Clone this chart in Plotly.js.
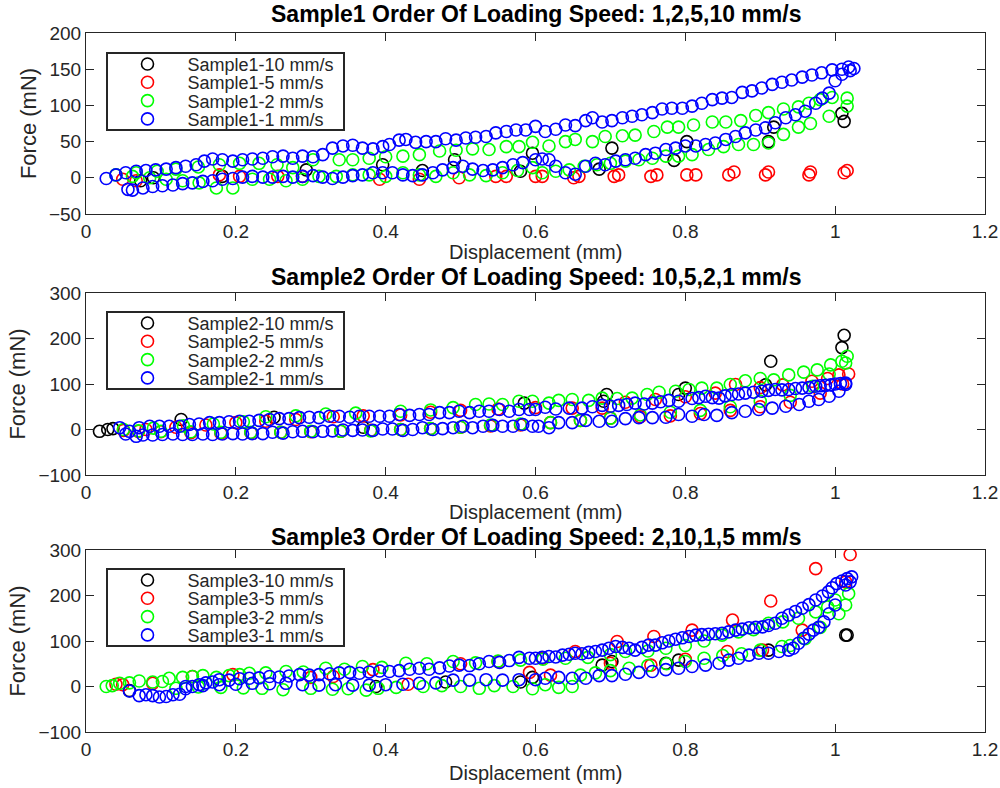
<!DOCTYPE html>
<html>
<head>
<meta charset="utf-8">
<script src="https://cdn.plot.ly/plotly-3.0.1.min.js"></script>
<style>html,body{margin:0;padding:0;background:#fff;}#chart{width:1000px;height:788px;}</style>
</head>
<body>
<div id="chart"></div>
<script>
// ---------- Sample 1 ----------
const s1_10x = [0.073,0.09,0.182,0.294,0.396,0.449,0.492,0.58,0.596,0.685,0.702,0.785,0.802,0.911,0.918,1.009,1.012];
const s1_10y = [-4,0,2,11,18,10,25,9,34,12,41,24,50,50,70,89,78];
const s1_5x = [0.049,0.067,0.178,0.205,0.256,0.289,0.392,0.445,0.498,0.547,0.561,0.6,0.609,0.651,0.658,0.705,0.711,0.754,0.762,0.802,0.814,0.858,0.865,0.907,0.911,0.965,0.967,1.012,1.016];
const s1_5y = [-2,-4,4,2,2,2,-2,-2,0,2,2,2,2,0,2,2,4,2,4,4,4,4,8,4,8,4,8,7,10];
const s1_2x = [0.04,0.067,0.095,0.12,0.15,0.178,0.205,0.231,0.255,0.276,0.303,0.338,0.356,0.378,0.4,0.423,0.445,0.472,0.494,0.516,0.538,0.561,0.578,0.596,0.618,0.64,0.653,0.676,0.693,0.716,0.733,0.758,0.776,0.791,0.811,0.836,0.854,0.874,0.894,0.911,0.931,0.951,0.965,0.98,0.996,1.016,
  1.016,0.992,0.967,0.951,0.931,0.911,0.891,0.871,0.851,0.831,0.809,0.791,0.774,0.756,0.738,0.72,0.7,0.682,0.665,0.645,0.627,0.609,0.596,0.576,0.556,0.534,0.512,0.49,0.467,0.445,0.423,0.4,0.378,0.356,0.334,0.311,0.289,0.267,0.245,0.222,0.196,0.174,0.151,0.129,0.107,0.085,0.062];
const s1_2y = [4,7,9,12,15,18,20,20,18,14,25,25,25,27,29,30,32,37,38,40,39,43,43,49,44,50,53,50,57,58,59,64,70,70,73,77,77,79,86,90,95,98,103,108,111,110,
  99,85,75,70,60,48,46,46,43,39,32,30,30,27,25,23,20,18,16,11,9,7,14,10,7,3,4,7,2,4,7,2,4,4,2,2,-2,-4,-2,-2,-14,-14,-7,-4,-2,0,2];
const s1_1x = [0.027,0.04,0.053,0.067,0.08,0.093,0.107,0.12,0.133,0.147,0.158,0.169,0.182,0.196,0.209,0.222,0.236,0.249,0.263,0.276,0.289,0.303,0.316,0.329,0.343,0.356,0.369,0.383,0.396,0.405,0.418,0.427,0.44,0.454,0.467,0.48,0.494,0.507,0.52,0.534,0.547,0.561,0.574,0.587,0.6,0.613,0.627,0.64,0.653,0.667,0.676,0.689,0.702,0.716,0.729,0.742,0.756,0.769,0.782,0.796,0.809,0.822,0.836,0.849,0.862,0.876,0.889,0.902,0.916,0.929,0.942,0.956,0.969,0.982,0.996,1.009,1.018,1.025,
  1.02,1.009,1.0,0.992,0.983,0.974,0.96,0.947,0.934,0.92,0.907,0.894,0.88,0.867,0.854,0.84,0.827,0.814,0.8,0.787,0.774,0.76,0.747,0.733,0.72,0.707,0.693,0.68,0.667,0.653,0.64,0.627,0.618,0.609,0.6,0.583,0.57,0.556,0.543,0.53,0.516,0.503,0.49,0.476,0.463,0.449,0.436,0.423,0.409,0.396,0.383,0.369,0.356,0.343,0.329,0.316,0.303,0.289,0.276,0.263,0.249,0.236,0.222,0.209,0.196,0.182,0.169,0.156,0.142,0.129,0.116,0.102,0.089,0.076,0.062,0.056];
const s1_1y = [-1,4,7,9,10,11,12,14,16,18,23,26,25,23,25,26,27,29,30,27,30,29,32,41,44,45,41,40,43,46,52,53,49,50,50,54,52,55,56,57,62,64,66,66,71,64,67,73,72,79,83,77,79,83,85,87,90,95,96,96,99,103,108,110,111,118,120,124,129,132,135,139,142,145,149,150,153,151,
  148,143,134,117,110,103,92,87,83,76,69,66,62,57,53,48,46,44,44,41,39,34,32,27,25,23,18,20,16,5,7,16,25,26,25,21,18,14,11,10,12,16,14,11,7,4,3,4,7,7,7,4,3,1,-1,1,3,2,1,2,1,1,2,1,-1,-2,-4,-5,-7,-8,-10,-11,-12,-14,-17,-16];

// ---------- Sample 2 ----------
const s2_10x = [0.018,0.029,0.036,0.127,0.251,0.37,0.585,0.691,0.695,0.791,0.8,0.907,0.914,1.009,1.012];
const s2_10y = [-4,0,2,22,27,5,58,62,77,77,91,98,150,180,207];
const s2_5x = [0.05,0.08,0.12,0.16,0.2,0.24,0.28,0.33,0.37,0.42,0.46,0.5,0.55,0.6,0.649,0.689,0.72,0.76,0.8,0.84,0.867,0.9,0.93,0.969,0.99,1.005,1.018,
  1.01,0.98,0.94,0.9,0.86,0.82,0.78,0.74,0.7,0.66,0.62,0.58,0.54,0.5,0.46,0.42,0.38,0.34,0.3,0.26,0.22,0.18,0.14,0.1,0.07];
const s2_5y = [-2,0,5,10,15,18,22,28,30,32,38,42,45,48,47,47,60,66,72,80,99,92,98,106,112,120,122,
  100,80,60,50,42,35,30,28,25,20,15,10,8,5,2,0,-2,-4,-5,-6,-7,-8,-7,-5,-4];
const s2_2x = [0.05,0.09,0.13,0.17,0.21,0.24,0.28,0.32,0.36,0.42,0.46,0.49,0.52,0.538,0.556,0.578,0.596,0.618,0.631,0.649,0.671,0.689,0.709,0.729,0.749,0.765,0.787,0.805,0.822,0.842,0.86,0.88,0.9,0.918,0.938,0.958,0.976,0.994,1.009,1.016,
  1.014,0.992,0.97,0.94,0.9,0.86,0.82,0.78,0.74,0.7,0.66,0.62,0.58,0.54,0.5,0.46,0.42,0.38,0.34,0.3,0.26,0.22,0.18,0.14,0.1,0.07];
const s2_2y = [0,3,8,12,17,28,30,34,36,40,43,48,55,56,55,62,62,58,64,66,64,69,68,69,77,82,84,88,91,91,99,107,112,109,120,126,131,142,150,161,
  146,122,95,75,62,50,42,38,32,25,20,15,12,10,5,2,0,-3,-4,-4,-6,-6,-6,-5,-4,-3];
const s2_1x = [0.045,0.058,0.071,0.085,0.098,0.111,0.125,0.138,0.151,0.165,0.178,0.191,0.205,0.218,0.231,0.245,0.258,0.271,0.285,0.298,0.311,0.325,0.338,0.352,0.365,0.378,0.392,0.405,0.418,0.432,0.445,0.458,0.472,0.485,0.498,0.512,0.525,0.538,0.552,0.565,0.578,0.592,0.6,0.613,0.627,0.645,0.662,0.676,0.689,0.7,0.711,0.722,0.733,0.745,0.756,0.767,0.778,0.791,0.809,0.818,0.827,0.836,0.845,0.853,0.862,0.871,0.88,0.891,0.902,0.911,0.92,0.929,0.938,0.947,0.956,0.965,0.974,0.98,0.987,0.994,1.0,1.007,1.014,
  1.014,1.005,0.992,0.978,0.965,0.952,0.934,0.916,0.898,0.88,0.862,0.842,0.825,0.809,0.791,0.774,0.756,0.738,0.72,0.702,0.685,0.667,0.649,0.631,0.618,0.604,0.596,0.583,0.57,0.556,0.543,0.53,0.516,0.503,0.49,0.476,0.463,0.449,0.436,0.423,0.409,0.396,0.383,0.369,0.356,0.343,0.329,0.316,0.303,0.289,0.276,0.263,0.249,0.236,0.222,0.209,0.196,0.182,0.169,0.156,0.142,0.129,0.116,0.102,0.089,0.076,0.067,0.053];
const s2_1y = [4,-4,4,7,7,7,7,11,12,15,15,17,18,18,20,22,24,24,26,27,26,29,29,27,29,29,29,29,33,31,33,33,37,37,40,37,40,40,44,40,44,44,44,49,45,47,47,50,53,51,53,55,58,56,58,61,64,62,68,70,73,70,69,74,77,78,80,82,84,86,88,87,88,90,91,92,95,96,97,98,100,101,102,
  99,84,73,66,62,55,51,47,44,40,37,31,33,29,33,27,26,26,24,18,18,20,15,15,4,7,7,11,7,7,9,7,4,7,4,2,0,4,0,-2,1,1,-2,-1,-2,-1,-3,-4,-5,-4,-5,-8,-6,-9,-9,-10,-9,-10,-11,-10,-11,-11,-10,-11,-12,-12,-15,-10];

// ---------- Sample 3 ----------
const s3_10x = [0.058,0.387,0.48,0.58,0.596,0.689,0.702,0.774,0.791,0.911,1.014,1.016];
const s3_10y = [-9,0,10,10,20,47,55,51,58,80,113,113];
const s3_5x = [0.04,0.049,0.089,0.142,0.196,0.3,0.33,0.383,0.43,0.5,0.55,0.592,0.609,0.62,0.653,0.7,0.709,0.754,0.758,0.8,0.809,0.856,0.863,0.903,0.914,0.956,0.974,1.014,1.02];
const s3_5y = [5,4,7,22,26,20,22,37,5,50,55,31,62,25,77,51,99,47,110,60,124,77,146,80,188,124,259,230,290];
const s3_2x = [0.027,0.035,0.045,0.058,0.071,0.089,0.102,0.111,0.129,0.142,0.156,0.174,0.191,0.205,0.218,0.24,0.267,0.29,0.32,0.345,0.369,0.395,0.427,0.455,0.49,0.52,0.55,0.58,0.61,0.64,0.67,0.7,0.72,0.75,0.774,0.8,0.825,0.849,0.871,0.891,0.911,0.93,0.951,0.974,0.99,1.0,1.014,1.018,
  1.005,0.98,0.96,0.94,0.929,0.9,0.875,0.85,0.825,0.8,0.775,0.75,0.725,0.7,0.68,0.66,0.649,0.631,0.613,0.596,0.57,0.545,0.525,0.5,0.475,0.45,0.414,0.39,0.374,0.35,0.329,0.3,0.263,0.235,0.21,0.18,0.15,0.12];
const s3_2y = [0,2,7,8,12,10,11,18,20,22,24,20,24,26,29,30,33,32,40,38,44,42,51,50,55,52,56,58,60,62,64,70,77,78,84,90,100,113,120,125,139,142,150,164,175,190,179,204,
  160,130,105,90,88,80,72,68,62,55,50,46,40,35,30,25,0,-2,4,-5,0,2,-4,0,2,0,-2,-4,-8,-5,-6,-4,-7,-4,-3,-2,-1,-4];
const s3_1x = [0.058,0.071,0.08,0.089,0.098,0.107,0.116,0.125,0.133,0.142,0.151,0.16,0.169,0.178,0.191,0.205,0.218,0.231,0.245,0.258,0.271,0.285,0.298,0.311,0.325,0.338,0.352,0.365,0.378,0.392,0.405,0.418,0.432,0.445,0.458,0.472,0.485,0.498,0.512,0.525,0.538,0.552,0.565,0.578,0.592,0.6,0.609,0.618,0.627,0.636,0.645,0.653,0.662,0.671,0.68,0.689,0.698,0.707,0.716,0.725,0.733,0.742,0.751,0.76,0.769,0.778,0.787,0.796,0.805,0.814,0.822,0.831,0.84,0.849,0.858,0.867,0.876,0.885,0.894,0.903,0.911,0.92,0.929,0.938,0.947,0.956,0.965,0.974,0.983,0.991,0.996,1.002,1.009,1.016,1.022,
  1.02,1.014,1.0,0.992,0.985,0.978,0.971,0.965,0.958,0.951,0.944,0.938,0.925,0.911,0.898,0.885,0.871,0.858,0.845,0.827,0.809,0.791,0.774,0.756,0.738,0.72,0.702,0.685,0.667,0.649,0.631,0.613,0.6,0.578,0.556,0.534,0.512,0.49,0.467,0.445,0.423,0.4,0.378,0.356,0.333,0.311,0.289,0.267,0.245,0.222,0.2,0.178,0.156,0.133];
const s3_1y = [-10,-20,-18,-20,-23,-22,-18,-17,-5,0,4,8,10,15,14,17,18,19,22,21,23,26,25,26,28,30,31,29,32,34,33,35,38,40,38,41,45,47,46,50,55,53,57,64,62,62,64,66,65,69,71,73,72,75,77,80,84,88,86,84,80,86,91,91,96,100,104,107,110,113,114,115,116,117,120,124,126,129,130,131,134,139,150,157,165,172,180,190,199,208,217,226,232,237,241,
  230,223,179,160,142,130,124,115,106,95,84,80,77,73,73,69,62,58,51,47,44,40,37,33,31,27,24,24,18,18,20,18,15,15,14,15,14,14,8,7,5,4,3,3,4,3,4,7,6,7,5,4,2,0];

const speedNames = ['10 mm/s','5 mm/s','2 mm/s','1 mm/s'];
const speedColors = ['#000000','#ff0000','#00ff00','#0000ff'];
const titles = ['Sample1 Order Of Loading Speed: 1,2,5,10 mm/s',
                'Sample2 Order Of Loading Speed: 10,5,2,1 mm/s',
                'Sample3 Order Of Loading Speed: 2,10,1,5 mm/s'];
const xLabel = 'Displacement (mm)';
const yLabel = 'Force (mN)';
const yTicks1 = [-50,0,50,100,150,200];
const yTicks23 = [-100,0,100,200,300];
const xTicks = [0,0.2,0.4,0.6,0.8,1,1.2];

const samples = [
  [[s1_10x,s1_10y],[s1_5x,s1_5y],[s1_2x,s1_2y],[s1_1x,s1_1y]],
  [[s2_10x,s2_10y],[s2_5x,s2_5y],[s2_2x,s2_2y],[s2_1x,s2_1y]],
  [[s3_10x,s3_10y],[s3_5x,s3_5y],[s3_2x,s3_2y],[s3_1x,s3_1y]]
];

const FONT = 'Liberation Sans, Arial, Helvetica, sans-serif';
const AX = '#262626';
const traces = [];
samples.forEach((sets, si) => {
  sets.forEach((d, k) => {
    traces.push({
      type: 'scatter', mode: 'markers',
      x: d[0], y: d[1],
      name: 'Sample' + (si + 1) + '-' + speedNames[k],
      xaxis: si === 0 ? 'x' : 'x' + (si + 1),
      yaxis: si === 0 ? 'y' : 'y' + (si + 1),
      legend: si === 0 ? 'legend' : 'legend' + (si + 1),
      marker: {symbol: 'circle-open', size: 12, color: speedColors[k], line: {width: 1.6, color: speedColors[k]}},
      hoverinfo: 'skip'
    });
  });
});

// pixel geometry helpers (margins t=33, b=56 => plot height 699)
const H = 699, B = 732;
const py = p => (B - p) / H;
const domains = [[py(214), 1], [py(475), py(293)], [py(732), py(550)]];
const titleY = [14, 277, 537];
const xLabelY = [252, 512, 773];
const legendTop = [52, 311, 568];

function xAxis(anchor) {
  return {
    domain: [0, 1], range: [0, 1.2], tickvals: xTicks, ticktext: xTicks.map(String),
    ticks: 'inside', ticklen: 8, tickcolor: AX, tickwidth: 1,
    showline: true, linecolor: AX, linewidth: 1, mirror: 'ticks',
    showgrid: false, zeroline: false, anchor: anchor, ticklabelstandoff: 0,
    tickfont: {family: FONT, size: 19, color: AX}
  };
}
function yAxis(anchor, dom, range, ticks) {
  return {
    domain: dom, range: range, tickvals: ticks,
    ticks: 'inside', ticklen: 8, tickcolor: AX, tickwidth: 1,
    showline: true, linecolor: AX, linewidth: 1, mirror: 'ticks',
    showgrid: false, zeroline: false, anchor: anchor,
    tickfont: {family: FONT, size: 19, color: AX},
    title: {text: yLabel, font: {family: FONT, size: 22, color: AX}, standoff: 6}
  };
}
function legendCfg(i) {
  return {
    x: 20 / 899, xanchor: 'left', y: py(legendTop[i]), yanchor: 'top',
    bgcolor: '#ffffff', bordercolor: AX, borderwidth: 1.5,
    font: {family: FONT, size: 18, color: AX},
    itemwidth: 70, tracegroupgap: 0
  };
}

const annotations = [];
titles.forEach((t, i) => annotations.push({
  text: '<b>' + t + '</b>', xref: 'paper', yref: 'paper',
  x: 0.5, y: py(titleY[i]), xanchor: 'center', yanchor: 'middle',
  showarrow: false, font: {family: FONT, size: 23, color: '#000000'}
}));
xLabelY.forEach(v => annotations.push({
  text: xLabel, xref: 'paper', yref: 'paper',
  x: 0.5, y: py(v), xanchor: 'center', yanchor: 'middle',
  showarrow: false, font: {family: FONT, size: 20, color: AX}
}));

const layout = {
  width: 1000, height: 788,
  margin: {l: 86, r: 15, t: 33, b: 56},
  paper_bgcolor: '#ffffff', plot_bgcolor: '#ffffff',
  font: {family: FONT, color: AX},
  showlegend: true,
  xaxis: xAxis('y'), xaxis2: xAxis('y2'), xaxis3: xAxis('y3'),
  yaxis: yAxis('x', domains[0], [-50, 200], yTicks1),
  yaxis2: yAxis('x2', domains[1], [-100, 300], yTicks23),
  yaxis3: yAxis('x3', domains[2], [-100, 300], yTicks23),
  legend: legendCfg(0), legend2: legendCfg(1), legend3: legendCfg(2),
  annotations: annotations
};

// compact legend rows (MATLAB-style tight spacing) after Plotly has drawn them
const ROW = 18.3, FIRST = 12, BOXW = 237, BOXH = 77;
Plotly.newPlot('chart', traces, layout, {staticPlot: true, displayModeBar: false}).then(gd => {
  ['legend', 'legend2', 'legend3'].forEach(id => {
    const lg = gd.querySelector('g.' + id);
    if (!lg) return;
    const items = lg.querySelectorAll('g.traces');
    items.forEach((it, i) => {
      const tr = it.getAttribute('transform') || '';
      const m = tr.match(/translate\(\s*([-\d.]+)[ ,]+([-\d.]+)\s*\)/);
      const x = m ? parseFloat(m[1]) : 0;
      it.setAttribute('transform', 'translate(' + x + ',' + (FIRST + i * ROW) + ')');
    });
    lg.querySelectorAll('rect.bg').forEach(r => {
      r.setAttribute('height', BOXH);
      r.setAttribute('width', BOXW);
    });
  });
});
</script>
</body>
</html>
